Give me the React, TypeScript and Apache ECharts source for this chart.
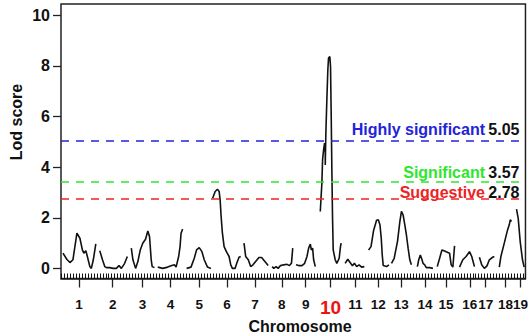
import React, { useEffect, useRef } from "react";
import * as echarts from "echarts";

const FONT = "'Liberation Sans', Arial, Helvetica, sans-serif";

const chromosomes = ["1", "2", "3", "4", "5", "6", "7", "8", "9", "10", "11", "12", "13", "14", "15", "16", "17", "18", "19"];
const chromosomeCenters = [18, 52, 82, 110, 139, 167, 195, 222, 246, 271, 296, 319, 342, 366, 387, 411, 427, 447, 462];

const chr1 = [[2, 0.6], [6, 0.35], [9, 0.23], [12, 0.34], [16, 1.39], [19, 1.19], [21.5, 0.73], [23, 0.6], [25, 0.7], [26.5, 0.47], [29, 0.07], [30.5, 0], [32.5, 0.34], [35, 0.97]];
const chr2 = [[39, 0.7], [41.7, 0.34], [44, 0.07], [45.7, 0.03], [49, 0.03], [52.3, 0], [55.7, 0], [58.3, 0.11], [60.7, 0], [64, 0.2], [66.7, 0.47]];
const chr3 = [[70.7, 0.8], [72.3, 0.34], [75, 0], [77.3, 0.27], [79.7, 0.73], [82.3, 1.0], [85, 1.15], [87.3, 1.48], [89, 1.26], [90.7, 0.34], [91.7, 0.07], [94, 0.03]];
const chr4 = [[97.3, 0.05], [102.3, 0], [107.3, 0.05], [110.7, 0.1], [114, 0.14], [115.7, 0.05], [118.3, 0.47], [119.7, 0.86], [120.7, 1.39], [122.3, 1.55]];
const chr5 = [[126.3, 0], [130.7, 0.05], [134, 0.4], [136.3, 0.73], [139, 0.82], [141.7, 0.66], [144, 0.34], [147.3, 0.05], [150.7, 0]];
const chr6 = [[152.5, 2.77], [155, 3.04], [157.3, 3.13], [159, 3.04], [160, 2.71], [161, 2.05], [162.3, 1.39], [164, 0.86], [166.3, 0.66], [169, 0.47], [170.7, 0.14], [172.3, 0], [175, 0], [176.7, 0.2], [179, 0.44], [180.7, 0.47]];
const chr7 = [[184, 1.0], [185.7, 0.47], [188.3, 0.34], [190.7, 0.07], [193, 0.14], [195.7, 0.27], [199, 0.43], [201.7, 0.43], [205, 0.27], [208.3, 0.11]];
const chr8 = [[212.3, 0.07], [214, 0], [216.3, 0.07], [218.3, 0], [220.7, 0.11], [224, 0.14], [227.3, 0.16], [229.7, 0.11], [231.7, 0.2], [233, 0.8]];
const chr9 = [[236.3, 0.14], [239, 0.11], [242.3, 0.11], [245, 0.2], [247.3, 0.47], [249, 0.8], [250.7, 0.96], [251.7, 0.73], [253, 0.8], [254, 0.34], [255.7, 0.07]];
const chr10 = [[260.7, 2.25], [262.3, 3.37], [263, 4.29], [264, 4.68], [265, 4.95], [265.7, 4.55], [265.7, 4.09], [266.3, 5.34], [267.3, 6.66], [268.3, 7.85], [269, 8.31], [270.3, 8.37], [271, 7.98], [271.7, 6.0], [272.3, 4.02], [273, 2.05], [273.7, 0.73], [275.7, 0.34], [277.3, 0.2], [279.7, 0.4], [281, 0.86], [281.7, 1.0]];
const chr11 = [[285.7, 0.2], [288.3, 0.36], [290.7, 0.23], [293, 0.1], [295, 0.2], [297.3, 0.07], [299.7, 0.14], [302.3, 0.05], [305, 0.07]];
const chr12 = [[309.3, 0.73], [311.7, 0.86], [314.3, 1.5], [317.3, 1.9], [319, 1.92], [320.7, 1.72], [322, 1.19], [323, 0.53], [324, 0.11], [327.3, 0.07], [329.7, 0.14]];
const chr13 = [[332.3, 0.2], [335, 0.4], [338.3, 1.06], [340.7, 1.85], [342.3, 2.25], [344, 2.11], [345.7, 1.72], [347.3, 1.32], [349, 0.8], [350.7, 0.34], [352.3, 0.14]];
const chr14 = [[358.3, 0.07], [359.7, 0.34], [361.3, 0.53], [363, 0.34], [364, 0.2], [365.7, 0.14], [367.3, 0.03], [370.7, 0.03], [374, 0]];
const chr15 = [[378.3, 0.07], [380.7, 0.4], [383, 0.73], [385.7, 0.69], [387.3, 0.66], [390.7, 0.6], [392.3, 0.14], [394, 0.05], [395.7, 0.89]];
const chr16 = [[400.7, 0.05], [404, 0.34], [407.3, 0.47], [410.7, 0.66], [413, 0.47], [415.7, 0.07]];
const chr17 = [[420.7, 0.44], [423, 0.14], [425.7, 0], [428.3, 0.1], [430.7, 0.34], [434, 0.44], [435.7, 0.47]];
const chr18 = [[440.7, 0.05], [442.3, 0.47], [445.7, 1.0], [449, 1.52], [450.7, 1.72], [451.7, 1.92], [453, 1.85]];
const chr19 = [[458, 2.34], [459.7, 1.98], [461.7, 1.06], [464, 0.34], [465.7, 0.05]];

const lodByChromosome = [chr1, chr2, chr3, chr4, chr5, chr6, chr7, chr8, chr9, chr10, chr11, chr12, chr13, chr14, chr15, chr16, chr17, chr18, chr19];

const yTicks = [0, 2, 4, 6, 8, 10];
const genomeLength = 467;
const markerSpacing = 3;

const thresholdNames = ["Highly significant", "Significant", "Suggestive"];
const thresholdLabels = ["5.05", "3.57", "2.78"];
const thresholdLevels = [5.05, 3.42, 2.76];
const thresholdColors = ["#2323d8", "#2ee62e", "#ec2424"];
const thresholdLabelGaps = [3, 1, -2];

export default function App() {
  const ref = useRef<HTMLDivElement>(null);

  useEffect(() => {
    if (!ref.current) return;
    const chart = echarts.init(ref.current, undefined, { renderer: "svg" });

    const markLineData = thresholdLevels.map((lvl, i) => ({
      yAxis: lvl,
      lineStyle: { color: thresholdColors[i], width: 1.5, type: [8, 7] },
      label: {
        show: true,
        position: "insideEndTop",
        distance: [6, thresholdLabelGaps[i]],
        formatter: `{n|${thresholdNames[i]}} {v|${thresholdLabels[i]}}`,
        rich: {
          n: { color: thresholdColors[i], fontFamily: FONT, fontWeight: "bold", fontSize: 16 },
          v: { color: "#111", fontFamily: FONT, fontWeight: "bold", fontSize: 16 },
        },
      },
    }));

    const series: any[] = lodByChromosome.map((d, i) => ({
      type: "line",
      name: "chr" + chromosomes[i],
      data: d,
      xAxisIndex: 0,
      yAxisIndex: 0,
      showSymbol: false,
      symbol: "none",
      lineStyle: { color: "#111", width: 1.6 },
      silent: true,
      ...(i === 0
        ? {
            markLine: {
              silent: true,
              symbol: "none",
              data: markLineData,
            },
          }
        : {}),
    }));

    series.push({
      type: "line",
      name: "markers",
      data: [],
      xAxisIndex: 1,
      yAxisIndex: 0,
      showSymbol: false,
      silent: true,
    });

    const labelValues = [...chromosomeCenters, genomeLength];

    chart.setOption({
      animation: false,
      grid: {
        left: 61,
        top: 4,
        width: 467,
        height: 274.5,
        show: true,
        borderColor: "#222",
        borderWidth: 1.5,
        backgroundColor: "transparent",
      },
      xAxis: [
        {
          type: "value",
          min: 0,
          max: genomeLength,
          position: "bottom",
          axisLine: { show: false, onZero: false },
          splitLine: { show: false },
          axisTick: {
            show: true,
            length: 9,
            customValues: labelValues,
            lineStyle: { color: "#222", width: 1.3 },
          },
          axisLabel: {
            show: true,
            customValues: labelValues,
            showMaxLabel: false,
            hideOverlap: false,
            margin: 19,
            color: "#111",
            fontFamily: FONT,
            fontWeight: "bold",
            fontSize: 13.5,
            formatter: (v: number) => {
              const idx = chromosomeCenters.indexOf(v);
              const name = idx >= 0 ? chromosomes[idx] : "";
              return name === "10" ? `{hi|${name}}` : name;
            },
            rich: {
              hi: { color: "#ee1111", fontFamily: FONT, fontWeight: "bold", fontSize: 19 },
            },
          },
        },
        {
          type: "value",
          min: 0,
          max: genomeLength,
          interval: markerSpacing,
          position: "bottom",
          offset: 0,
          axisLine: { show: true, onZero: false, lineStyle: { color: "#222", width: 1.5 } },
          splitLine: { show: false },
          axisLabel: { show: false },
          axisTick: { show: true, inside: true, length: 5, lineStyle: { color: "#111", width: 1 } },
        },
      ],
      yAxis: {
        type: "value",
        min: -0.4,
        max: 10.45,
        axisLine: { show: false, onZero: false },
        splitLine: { show: false },
        axisTick: {
          show: true,
          length: 8,
          customValues: yTicks,
          lineStyle: { color: "#222", width: 1.3 },
        },
        axisLabel: {
          show: true,
          customValues: yTicks,
          margin: 11,
          color: "#111",
          fontFamily: FONT,
          fontWeight: "bold",
          fontSize: 16,
        },
      },
      graphic: [
        {
          type: "text",
          x: 16,
          y: 122,
          rotation: Math.PI / 2,
          style: {
            text: "Lod score",
            fill: "#111",
            font: `bold 16px ${FONT}`,
            align: "center",
            verticalAlign: "middle",
          },
        },
        {
          type: "text",
          x: 300,
          y: 326,
          style: {
            text: "Chromosome",
            fill: "#111",
            font: `bold 16px ${FONT}`,
            align: "center",
            verticalAlign: "middle",
          },
        },
      ],
      series,
    });

    return () => chart.dispose();
  }, []);

  return (
    <div
      ref={ref}
      style={{ position: "fixed", left: 0, top: 0, width: 531, height: 336, background: "#fff" }}
    />
  );
}
